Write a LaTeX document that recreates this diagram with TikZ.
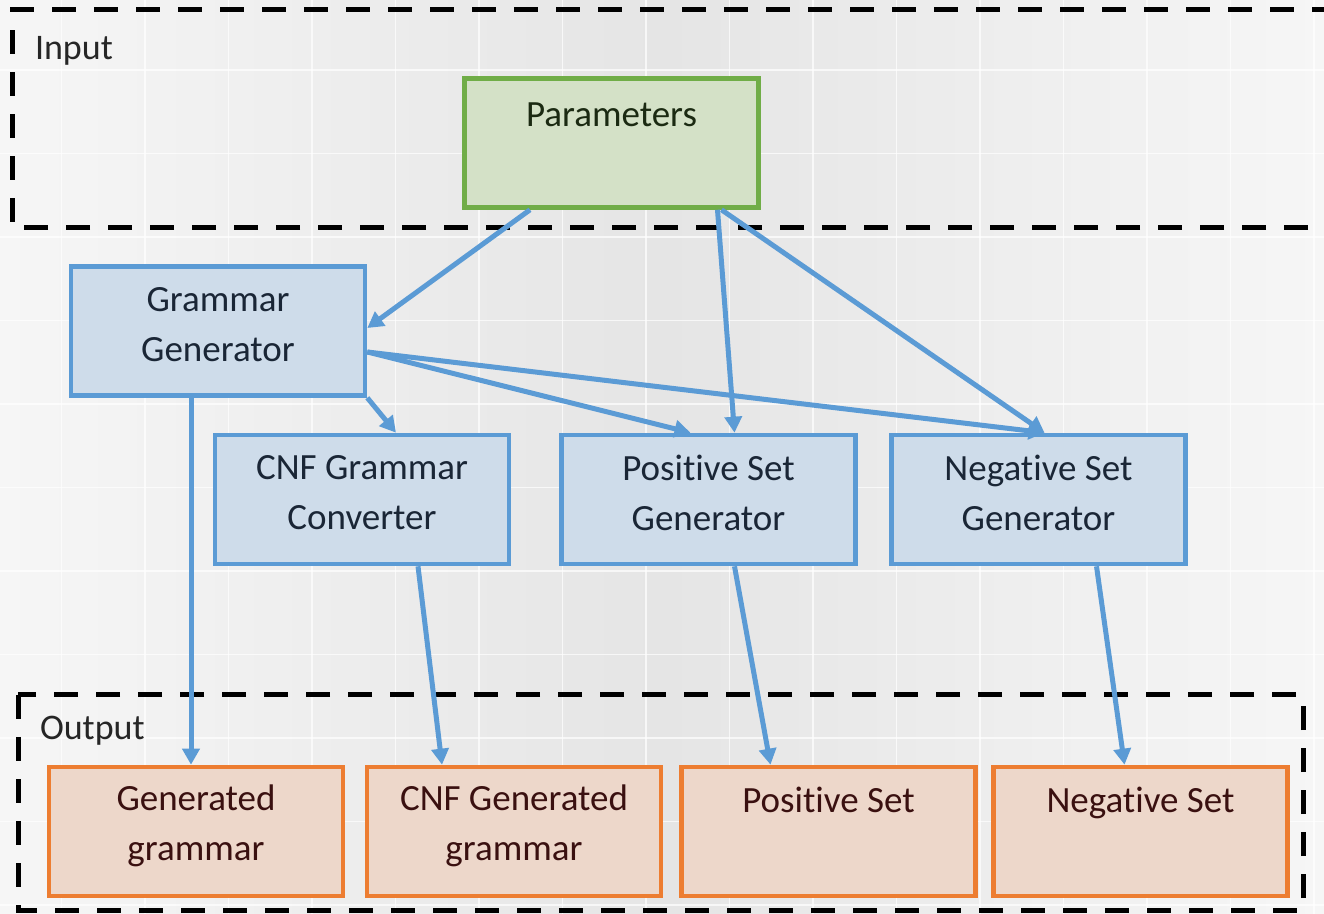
\documentclass[tikz,border=0pt]{standalone}
\usepackage{fontspec}
\setsansfont{Carlito}[Ligatures=NoCommon]
\usetikzlibrary{arrows.meta}
\definecolor{bgside}{RGB}{246,246,246}
\definecolor{bgmid}{RGB}{229,229,229}
\definecolor{paramfill}{RGB}{212,225,199}
\definecolor{paramline}{RGB}{112,173,71}
\definecolor{paramtext}{RGB}{27,42,18}
\definecolor{procfill}{RGB}{206,220,234}
\definecolor{procline}{RGB}{91,155,213}
\definecolor{proctext}{RGB}{26,38,54}
\definecolor{outfill}{RGB}{237,215,202}
\definecolor{outline}{RGB}{237,125,49}
\definecolor{outtext}{RGB}{58,16,16}
\newcommand{\boxpad}[1][7pt]{\rule[-#1]{0pt}{0pt}}
\begin{document}
\begin{tikzpicture}[x=.5pt,y=-.5pt,
  box/.style={rectangle,minimum width=147pt,minimum height=64.5pt,line width=2.3pt,align=center,font=\sffamily\fontsize{18.5}{25}\selectfont},
  inbox/.style={box,draw=paramline,fill=paramfill,text=paramtext},
  procbox/.style={box,draw=procline,fill=procfill,text=proctext},
  outbox/.style={box,draw=outline,fill=outfill,text=outtext},
  flow/.style={draw=procline,line width=2.5pt,-{Triangle[length=8pt,width=8.5pt]}},
  region/.style={draw=black,line width=2.5pt,dash pattern=on 12pt off 9pt},
  regionlabel/.style={inner sep=0pt,outer sep=0pt,anchor=base west,text=black!85,font=\sffamily\fontsize{18}{22}\selectfont},
  gridline/.style={draw=white,line width=.8pt,opacity=.7}]
\useasboundingbox (0,0) rectangle (1324,914);
% background
\shade[left color=bgside,right color=bgside,middle color=bgmid] (0,0) rectangle (1324,914);
\foreach \gx in {61.5,145,...,1324} \draw[gridline] (\gx,0) -- (\gx,914);
\foreach \gy in {70,153.5,...,914} \draw[gridline] (0,\gy) -- (1324,\gy);
% input and output regions
\draw[region] (1350,228) -- (12,228) -- (12,10) -- (1350,10);
\node[regionlabel] (inlabel) at (35,60) {Input};
\draw[region] (18,695) rectangle (1303,910);
\node[regionlabel] (outlabel) at (40,740) {Output};
% boxes
\node[inbox] (params) at (611.5,143) {Parameters\\\mbox{}\boxpad[3pt]};
\node[procbox] (gram) at (218,331) {Grammar\\Generator\boxpad};
\node[procbox] (cnf) at (362,499.5) {CNF Grammar\\Converter\boxpad};
\node[procbox] (posgen) at (708.5,499.5) {Positive Set\\Generator\boxpad};
\node[procbox] (neggen) at (1038.5,499.5) {Negative Set\\Generator\boxpad};
\node[outbox] (outgram) at (196,831.5) {Generated\\grammar\boxpad[9pt]};
\node[outbox] (outcnf) at (514,831.5) {CNF Generated\\grammar\boxpad[9pt]};
\node[outbox] (outpos) at (828.5,831.5) {Positive Set\\\mbox{}\boxpad};
\node[outbox] (outneg) at (1140.5,831.5) {Negative Set\\\mbox{}\boxpad};
% arrows
\draw[flow] ([xshift=-40.75pt]params.south) -- ([yshift=1.5pt]gram.east);
\draw[flow] ([xshift=53pt]params.south) -- ([xshift=13pt]posgen.north);
\draw[flow] ([xshift=55pt]params.south) -- ([xshift=3pt]neggen.north);
\draw[flow] ([yshift=-10.5pt]gram.east) -- ([xshift=-9pt]posgen.north);
\draw[flow] ([yshift=-10.5pt]gram.east) -- ([xshift=3pt]neggen.north);
\draw[flow] (gram.south east) -- ([xshift=17pt]cnf.north);
\draw[flow] ([xshift=-13.5pt]gram.south) -- ([xshift=-2.5pt]outgram.north);
\draw[flow] ([xshift=28pt]cnf.south) -- ([xshift=-36pt]outcnf.north);
\draw[flow] ([xshift=13pt]posgen.south) -- ([xshift=-29pt]outpos.north);
\draw[flow] ([xshift=29pt]neggen.south) -- ([xshift=-8pt]outneg.north);
\end{tikzpicture}
\end{document}
